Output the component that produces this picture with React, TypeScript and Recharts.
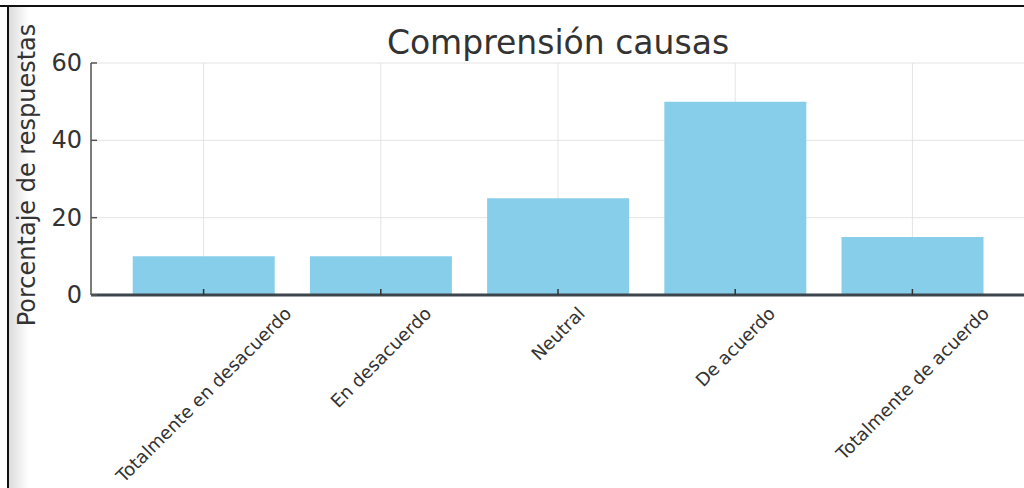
import { BarChart, Bar, XAxis, YAxis, CartesianGrid } from "recharts";

const categories = [
    "Totalmente en desacuerdo",
    "En desacuerdo",
    "Neutral",
    "De acuerdo",
    "Totalmente de acuerdo",
];
const percentages = [10, 10, 25, 50, 15];
const yTicks = [0, 20, 40, 60];

const chartTitle = "Comprensión causas";
const yLabel = "Porcentaje de respuestas";

const data = categories.map((category, i) => ({ category, value: percentages[i] }));

const FONT = "DejaVu Sans";
const TEXT = "#333";

let ctx: CanvasRenderingContext2D | null = null;
const measure = (s: string, size: number) => {
    if (!ctx) ctx = document.createElement("canvas").getContext("2d");
    if (!ctx) return s.length * size * 0.55;
    ctx.font = `${size}px "${FONT}"`;
    return ctx.measureText(s).width;
};

const XTick = (props: any) => {
    const { x, y, payload } = props;
    const fs = 18;
    const len = measure(payload.value, fs);
    const half = (len + fs * 1.1) / (2 * Math.SQRT2);
    const cy = y + 8 + half;
    return (
        <g>
            <line x1={x} x2={x} y1={y} y2={y - 6} stroke="#333" strokeWidth={1.5} />
            <text
                x={x}
                y={cy}
                textAnchor="middle"
                dominantBaseline="central"
                transform={`rotate(-45 ${x} ${cy})`}
                fontSize={fs}
                fontFamily={FONT}
                fill={TEXT}
            >
                {payload.value}
            </text>
        </g>
    );
};

const YTick = (props: any) => {
    const { x, y, payload } = props;
    return (
        <g>
            <line x1={x + 9} x2={x + 15} y1={y} y2={y} stroke="#555" strokeWidth={1.5} />
            <text x={x} y={y} textAnchor="end" dominantBaseline="central" fontSize={24} fontFamily={FONT} fill={TEXT}>
                {payload.value}
            </text>
        </g>
    );
};

export default function App() {
    return (
        <div style={{ position: "absolute", left: 0, top: 0, width: 1024, height: 488, overflow: "hidden", background: "#fff" }}>
            {/* screenshot frame */}
            <div style={{ position: "absolute", left: 0, top: 5, width: 1024, height: 2, background: "#111" }} />
            <div style={{ position: "absolute", left: 7, top: 5, width: 2, height: 483, background: "#111" }} />
            <div
                style={{
                    position: "absolute",
                    left: 9,
                    top: 7,
                    width: 20,
                    height: 481,
                    background: "linear-gradient(to right, #dcdcdc, #ffffff)",
                }}
            />
            <div style={{ position: "absolute", left: 0, top: 0 }}>
                <BarChart width={1040} height={488} data={data} margin={{ top: 63, right: 15, left: 0, bottom: 0 }} barCategoryGap="10%">
                    <CartesianGrid stroke="#e4e4e4" strokeWidth={1} />
                    <XAxis
                        dataKey="category"
                        interval={0}
                        height={193}
                        padding={{ left: 24, right: 24 }}
                        tickSize={0}
                        tickMargin={0}
                        tick={<XTick />}
                        axisLine={{ stroke: "#3d454c", strokeWidth: 3 }}
                    />
                    <YAxis
                        width={91}
                        domain={[0, 60]}
                        ticks={yTicks}
                        tickSize={0}
                        tickMargin={9}
                        tick={<YTick />}
                        axisLine={{ stroke: "#555", strokeWidth: 1.5 }}
                    />
                    <Bar dataKey="value" fill="#87CEEB" isAnimationActive={false} />
                </BarChart>
            </div>
            <svg width={1024} height={488} style={{ position: "absolute", left: 0, top: 0, pointerEvents: "none" }}>
                <text x={558} y={54} textAnchor="middle" fontSize={33} fontFamily={FONT} fill={TEXT}>
                    {chartTitle}
                </text>
                <text x={35} y={175} textAnchor="middle" fontSize={24} fontFamily={FONT} fill={TEXT} transform="rotate(-90 35 175)">
                    {yLabel}
                </text>
            </svg>
        </div>
    );
}
